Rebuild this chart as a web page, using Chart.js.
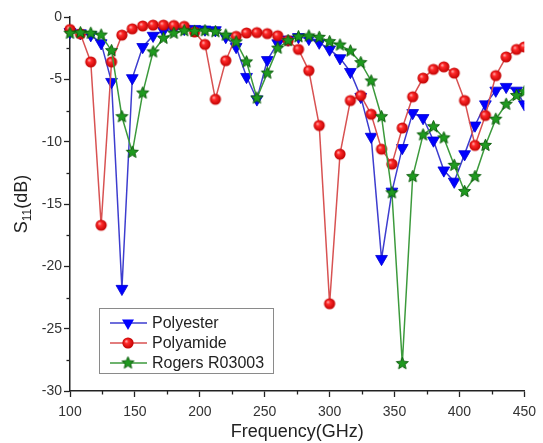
<!DOCTYPE html>
<html>
<head>
<meta charset="utf-8">
<script src="https://cdn.jsdelivr.net/npm/chart.js@4.4.1/dist/chart.umd.min.js"></script>
<style>
  html, body { margin: 0; padding: 0; background: #fff; }
  #wrap { width: 543px; height: 443px; }
</style>
</head>
<body>
<div id="wrap"><canvas id="myChart" width="543" height="443"></canvas></div>
<script>
// DATA
var freq = [100, 108, 116, 124, 132, 140, 148, 156, 164, 172, 180, 188, 196, 204, 212,
  220, 228, 236, 244, 252, 260, 268, 276, 284, 292, 300, 308, 316, 324, 332,
  340, 348, 356, 364, 372, 380, 388, 396, 404, 412, 420, 428, 436, 444, 450];
var polyester = [-1.2, -1.3, -1.45, -2.1, -5.2, -21.8, -4.9, -2.4, -1.5, -1.1, -1.0, -0.95, -0.95, -1.0, -1.05,
  -1.6, -2.4, -4.8, -6.6, -3.45, -2.1, -1.8, -1.6, -1.75, -2.05, -2.6, -3.3, -4.4, -6.4, -9.6,
  -19.4, -14.0, -10.5, -7.7, -8.1, -9.9, -12.3, -13.2, -11.0, -8.7, -7.0, -5.9, -5.6, -5.9, -7.0];
var polyamide = [-1.0, -1.35, -3.6, -16.7, -3.6, -1.45, -0.95, -0.72, -0.65, -0.65, -0.68, -0.75, -1.2, -2.2, -6.6,
  -3.5, -1.55, -1.28, -1.25, -1.33, -1.5, -1.9, -2.6, -4.3, -8.7, -23.0, -11.0, -6.7, -6.3, -7.8,
  -10.6, -11.8, -8.9, -6.4, -4.9, -4.2, -4.0, -4.5, -6.7, -10.3, -7.9, -4.7, -3.2, -2.6, -2.4];
var rogers = [-1.3, -1.26, -1.3, -1.45, -2.7, -8.0, -10.85, -6.1, -2.8, -1.7, -1.3, -1.1, -1.15, -1.1, -1.18,
  -1.45, -2.0, -3.6, -6.5, -4.5, -2.5, -1.9, -1.58, -1.52, -1.63, -1.98, -2.25, -2.73, -3.66, -5.13,
  -8.0, -14.1, -27.8, -12.8, -9.46, -8.8, -9.7, -11.9, -14.0, -12.8, -10.3, -8.2, -7.0, -6.3, -6.0];
var seriesNames = ["Polyester", "Polyamide", "Rogers R03003"];
var xMinorTicks = [125, 175, 225, 275, 325, 375, 425];
var yMinorTicks = [-2.5, -7.5, -12.5, -17.5, -22.5, -27.5];

var FONT = "'Liberation Sans', Arial, sans-serif";

function toPoints(xs, ys) {
  return xs.map(function (x, i) { return { x: x, y: ys[i] }; });
}

// MARKER IMAGES
function makeStar(r, fill, stroke) {
  var s = Math.ceil(r * 2 + 2);
  var c = document.createElement("canvas");
  c.width = s; c.height = s;
  var g = c.getContext("2d");
  g.beginPath();
  for (var i = 0; i < 10; i++) {
    var rr = i % 2 == 0 ? r : r * 0.45;
    var a = -Math.PI / 2 + i * Math.PI / 5;
    var x = s / 2 + rr * Math.cos(a), y = s / 2 + rr * Math.sin(a);
    if (i == 0) g.moveTo(x, y); else g.lineTo(x, y);
  }
  g.closePath();
  g.fillStyle = fill; g.fill();
  g.strokeStyle = stroke; g.lineWidth = 1; g.stroke();
  return c;
}
function makeBall(r) {
  var s = Math.ceil(r * 2 + 2);
  var c = document.createElement("canvas");
  c.width = s; c.height = s;
  var g = c.getContext("2d");
  var grad = g.createRadialGradient(s / 2 - r * 0.35, s / 2 - r * 0.35, 0, s / 2, s / 2, r);
  grad.addColorStop(0, "#ffc0c0");
  grad.addColorStop(0.35, "#ff2a2a");
  grad.addColorStop(1, "#c00000");
  g.beginPath();
  g.arc(s / 2, s / 2, r, 0, Math.PI * 2);
  g.fillStyle = grad; g.fill();
  return c;
}
var starImg = makeStar(6.3, "#1f9a1f", "#0b5e0b");
var ballImg = makeBall(5.6);

// MINOR TICKS, Y TITLE AND LEGEND
var extras = {
  id: "extras",
  afterDraw: function (chart) {
    var ctx = chart.ctx, xs = chart.scales.x, ys = chart.scales.y;
    var area = chart.chartArea;
    ctx.save();
    ctx.strokeStyle = "#222";
    ctx.lineWidth = 1.3;
    xMinorTicks.forEach(function (v) {
      var px = Math.round(xs.getPixelForValue(v)) + 0.5;
      ctx.beginPath(); ctx.moveTo(px, area.bottom); ctx.lineTo(px, area.bottom + 3.5); ctx.stroke();
    });
    yMinorTicks.forEach(function (v) {
      var py = Math.round(ys.getPixelForValue(v)) + 0.5;
      ctx.beginPath(); ctx.moveTo(area.left, py); ctx.lineTo(area.left - 3.5, py); ctx.stroke();
    });

    // y title with subscript
    ctx.translate(30, (area.top + area.bottom) / 2);
    ctx.rotate(-Math.PI / 2);
    ctx.fillStyle = "#222";
    ctx.textBaseline = "alphabetic";
    var big = "18px " + FONT, small = "12px " + FONT;
    ctx.font = big; var w1 = ctx.measureText("S").width;
    ctx.font = small; var w2 = ctx.measureText("11").width;
    ctx.font = big; var w3 = ctx.measureText("(dB)").width;
    var x0 = -(w1 + w2 + w3) / 2;
    ctx.font = big; ctx.fillText("S", x0, -3);
    ctx.font = small; ctx.fillText("11", x0 + w1, 1);
    ctx.font = big; ctx.fillText("(dB)", x0 + w1 + w2, -3);
    ctx.restore();

    // legend box
    ctx.save();
    var bx = 99, by = 308, bw = 174, bh = 65;
    ctx.fillStyle = "#fff";
    ctx.fillRect(bx, by, bw, bh);
    ctx.strokeStyle = "#8a8a8a";
    ctx.lineWidth = 1;
    ctx.strokeRect(bx + 0.5, by + 0.5, bw, bh);
    chart.data.datasets.forEach(function (ds, i) {
      var cy = 323 + i * 20;
      ctx.strokeStyle = ds.borderColor;
      ctx.lineWidth = 1.6;
      ctx.beginPath(); ctx.moveTo(110, cy); ctx.lineTo(147, cy); ctx.stroke();
      if (i == 0) {
        ctx.fillStyle = "#0000ff";
        ctx.beginPath();
        ctx.moveTo(128 - 6, cy - 3.5); ctx.lineTo(128 + 6, cy - 3.5); ctx.lineTo(128, cy + 7);
        ctx.closePath(); ctx.fill();
      } else {
        var img = ds.pointStyle;
        ctx.drawImage(img, 128 - img.width / 2, cy - img.height / 2);
      }
      ctx.fillStyle = "#222";
      ctx.font = "16px " + FONT;
      ctx.textBaseline = "middle";
      ctx.fillText(seriesNames[i], 152, cy + 1);
    });
    ctx.restore();
  }
};

new Chart("myChart", {
  type: "scatter",
  data: {
    datasets: [
      {
        label: seriesNames[0],
        data: toPoints(freq, polyester),
        showLine: true,
        borderColor: "#3d3dcf",
        borderWidth: 1.5,
        pointStyle: "triangle",
        rotation: 180,
        pointRadius: 6.8,
        backgroundColor: "#0000ff",
        pointBorderColor: "#0000d0",
        pointBorderWidth: 0.8,
        order: 3,
        clip: { left: 10, top: 10, right: 0, bottom: 10 },
      },
      {
        label: seriesNames[1],
        data: toPoints(freq, polyamide),
        showLine: true,
        borderColor: "#d85252",
        borderWidth: 1.5,
        pointStyle: ballImg,
        pointRadius: 6,
        backgroundColor: "#ff2020",
        order: 2,
        clip: { left: 10, top: 10, right: 0, bottom: 10 },
      },
      {
        label: seriesNames[2],
        data: toPoints(freq, rogers),
        showLine: true,
        borderColor: "#3c9a3c",
        borderWidth: 1.5,
        pointStyle: starImg,
        pointRadius: 6,
        backgroundColor: "#1f9a1f",
        order: 1,
        clip: { left: 10, top: 10, right: 0, bottom: 10 },
      },
    ],
  },
  options: {
    responsive: false,
    animation: false,
    events: [],
    layout: { padding: { top: 17, right: 17, left: 0, bottom: 0 } },
    plugins: { legend: { display: false }, tooltip: { enabled: false } },
    scales: {
      x: {
        type: "linear",
        min: 100,
        max: 450,
        afterFit: function (s) { s.height = 52; },
        ticks: { stepSize: 50, color: "#333", padding: 7, font: { size: 14, family: FONT } },
        grid: { drawOnChartArea: false, drawTicks: true, tickLength: 6, tickColor: "#222", tickWidth: 1.3 },
        border: { display: true, color: "#222", width: 1.5 },
        title: { display: true, text: "Frequency(GHz)", color: "#222", padding: { top: 0, bottom: 0 }, font: { size: 18, family: FONT } },
      },
      y: {
        type: "linear",
        min: -30,
        max: 0,
        afterFit: function (s) { s.width = 70; },
        ticks: { stepSize: 5, color: "#333", padding: 2, font: { size: 14, family: FONT } },
        grid: { drawOnChartArea: false, drawTicks: true, tickLength: 6, tickColor: "#222", tickWidth: 1.3 },
        border: { display: true, color: "#222", width: 1.5 },
      },
    },
  },
  plugins: [extras],
});
</script>
</body>
</html>
